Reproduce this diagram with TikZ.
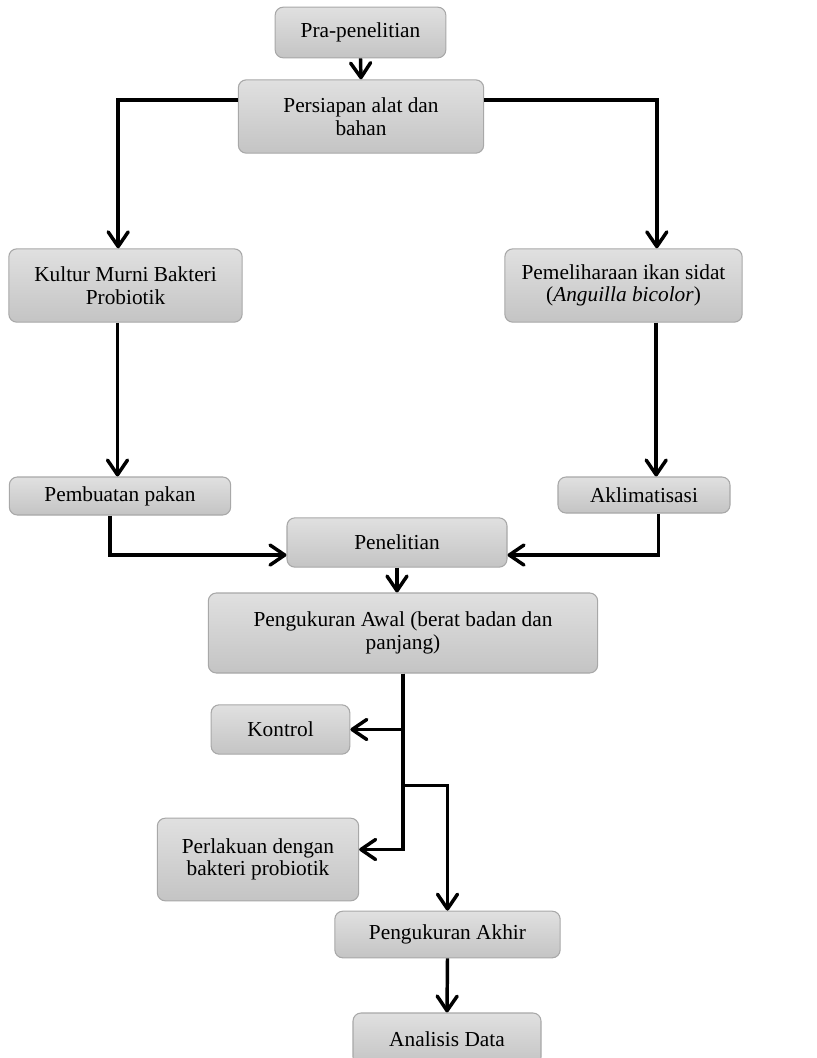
\documentclass[tikz,border=0pt]{standalone}
\usepackage{fontspec}
\setmainfont{Liberation Serif}
\usepackage{xcolor}
\definecolor{boxtop}{RGB}{224,224,224}
\definecolor{boxbot}{RGB}{196,196,196}
\definecolor{boxline}{RGB}{168,168,168}
\usetikzlibrary{arrows.meta,calc}
\tikzset{
  flowbox/.style={draw=boxline, line width=0.8pt, rounded corners=6pt,
                  top color=boxtop, bottom color=boxbot, align=center,
                  font=\fontsize{16}{17}\selectfont, inner sep=2pt},
  conn/.style={line width=2.6pt, -{Straight Barb[round,length=11pt,width=15pt]}},
}

\begin{document}
\begin{tikzpicture}[x=0.75pt, y=-0.75pt]
\useasboundingbox (0,0) rectangle (817,1058);

% --- Tahap persiapan ---
\node[flowbox, minimum width=128pt, minimum height=38pt] (pra) at (360.5,32.5) {Pra-penelitian};
\node[flowbox, minimum width=184pt, minimum height=55pt] (persiapan) at (361,116.5) {Persiapan alat dan\\bahan};

% --- Dua cabang ---
\node[flowbox, minimum width=175pt, minimum height=55pt] (kultur) at (125.5,285.5) {Kultur Murni Bakteri\\Probiotik};
\node[flowbox, minimum width=178pt, minimum height=55pt] (pemeliharaan) at (623.5,285.5) {Pemeliharaan ikan sidat\\(\textit{Anguilla bicolor})};
\node[flowbox, minimum width=166pt, minimum height=28.5pt] (pakan) at (120,496) {Pembuatan pakan};
\node[flowbox, minimum width=129pt, minimum height=27pt] (aklimatisasi) at (644,495) {Aklimatisasi};

% --- Tahap penelitian ---
\node[flowbox, minimum width=165pt, minimum height=37pt] (penelitian) at (397,542.5) {Penelitian};
\node[flowbox, minimum width=292pt, minimum height=60pt] (awal) at (403,633) {Pengukuran Awal (berat badan dan\\panjang)};
\node[flowbox, minimum width=104pt, minimum height=37pt] (kontrol) at (280.5,729.5) {Kontrol};
\node[flowbox, minimum width=151pt, minimum height=62pt] (perlakuan) at (258,859.5) {Perlakuan dengan\\bakteri probiotik};
\node[flowbox, minimum width=169pt, minimum height=35pt] (akhir) at (447.5,934.5) {Pengukuran Akhir};
\node[flowbox, minimum width=141pt, minimum height=39pt] (analisis) at (447,1039) {Analisis Data};

% connectors
\draw[conn] (pra.south) -- (persiapan.north);
\draw[conn] ([yshift=12.4pt]persiapan.west) -| ([xshift=-5.5pt]kultur.north);
\draw[conn] ([yshift=12.4pt]persiapan.east) -| ([xshift=25pt]pemeliharaan.north);
\draw[conn] ([xshift=-6pt]kultur.south) -- ([xshift=-6pt]kultur.south |- pakan.north);
\draw[conn] ([xshift=24.5pt]pemeliharaan.south) -- ([xshift=24.5pt]pemeliharaan.south |- aklimatisasi.north);
\draw[conn] ([xshift=-7.5pt]pakan.south) |- ([yshift=-9.4pt]penelitian.west);
\draw[conn] ([xshift=11pt]aklimatisasi.south) |- ([yshift=-9.4pt]penelitian.east);
\draw[conn] (penelitian.south) -- (penelitian.south |- awal.north);

% percabangan perlakuan
\coordinate (fork) at ($(awal.south)+(0,112)$);
\draw[conn] (awal.south) |- (kontrol.east);
\draw[conn] (awal.south) |- ([yshift=7.5pt]perlakuan.east);
\draw[conn] (fork) -| (akhir.north);
\draw[conn] (akhir.south) -- (analisis.north);

\end{tikzpicture}
\end{document}
